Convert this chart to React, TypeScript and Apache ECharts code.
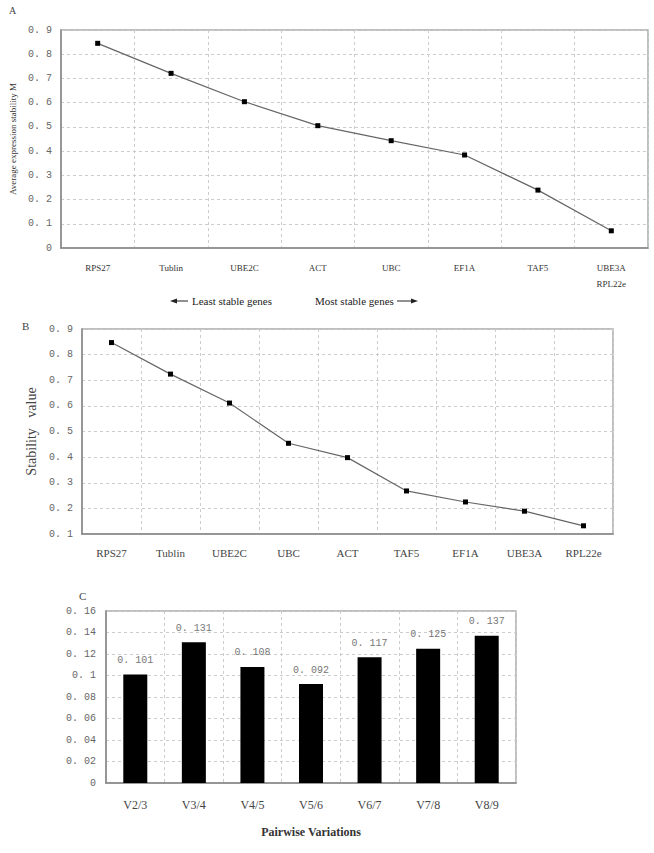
import React, { useEffect, useRef } from "react";
import * as echarts from "echarts";

const genesA = ["RPS27", "Tublin", "UBE2C", "ACT", "UBC", "EF1A", "TAF5", "UBE3A\nRPL22e"];
const valuesA = [0.845, 0.721, 0.604, 0.505, 0.443, 0.384, 0.239, 0.071];

const genesB = ["RPS27", "Tublin", "UBE2C", "UBC", "ACT", "TAF5", "EF1A", "UBE3A", "RPL22e"];
const valuesB = [0.847, 0.724, 0.611, 0.454, 0.398, 0.268, 0.225, 0.189, 0.132];

const pairs = ["V2/3", "V3/4", "V4/5", "V5/6", "V6/7", "V7/8", "V8/9"];
const pairValues = [0.101, 0.131, 0.108, 0.092, 0.117, 0.125, 0.137];

const fmt = (v: number, d: number) => (Math.abs(v) < 1e-9 ? "0" : (Math.round(v * 1000) / 1000).toFixed(d).replace(/0+$/, "").replace(".", ". "));

export default function App() {
  const ref = useRef<HTMLDivElement>(null);
  useEffect(() => {
    const chart = echarts.init(ref.current!, null, { renderer: "svg" });
    const serif = "Liberation Serif";
    const mono = "Liberation Mono";
    const grid = { show: true, borderColor: "#aaa", borderWidth: 1.5, backgroundColor: "#fff" };
    const split = { show: true, lineStyle: { color: "#ccc", type: [3, 3] as any, width: 1 } };
    const axisLine = { show: true, lineStyle: { color: "#888", width: 1.5 } };
    chart.setOption({
      animation: false,
      backgroundColor: "#fff",
      grid: [
        { ...grid, left: 61, top: 30, right: 6, bottom: 605 },
        { ...grid, left: 82, top: 329, right: 41, bottom: 319 },
        { ...grid, left: 106, top: 611, right: 138, bottom: 70 },
      ],
      xAxis: [
        {
          gridIndex: 0, type: "category", data: genesA, boundaryGap: true,
          axisLine, axisTick: { show: false }, splitLine: split,
          axisLabel: { fontFamily: serif, fontSize: 9, color: "#333", margin: 12, lineHeight: 16, verticalAlign: "top" },
        },
        {
          gridIndex: 1, type: "category", data: genesB, boundaryGap: true,
          axisLine, axisTick: { show: false }, splitLine: split,
          axisLabel: { fontFamily: serif, fontSize: 11, color: "#444", margin: 13 },
        },
        {
          gridIndex: 2, type: "category", data: pairs, boundaryGap: true,
          axisLine, axisTick: { show: false }, splitLine: split,
          axisLabel: { fontFamily: serif, fontSize: 12, color: "#444", margin: 16 },
          name: "Pairwise Variations", nameLocation: "middle", nameGap: 43,
          nameTextStyle: { fontFamily: serif, fontSize: 12, fontWeight: "bold", color: "#333" },
        },
      ],
      yAxis: [
        {
          gridIndex: 0, type: "value", min: 0, max: 0.9, interval: 0.1,
          axisLine, axisTick: { show: false }, splitLine: split,
          axisLabel: { fontFamily: mono, fontSize: 10, color: "#666", margin: 9, formatter: (v: number) => fmt(v, 1) },
          name: "Average expression stability M", nameLocation: "middle", nameGap: 38,
          nameTextStyle: { fontFamily: serif, fontSize: 9, color: "#333" },
        },
        {
          gridIndex: 1, type: "value", min: 0.1, max: 0.9, interval: 0.1,
          axisLine, axisTick: { show: false }, splitLine: split,
          axisLabel: { fontFamily: mono, fontSize: 10, color: "#666", margin: 9, formatter: (v: number) => fmt(v, 1) },
          name: "Stability   value", nameLocation: "middle", nameGap: 35,
          nameTextStyle: { fontFamily: serif, fontSize: 14, color: "#444" },
        },
        {
          gridIndex: 2, type: "value", min: 0, max: 0.16, interval: 0.02,
          axisLine, axisTick: { show: false }, splitLine: split,
          axisLabel: { fontFamily: mono, fontSize: 10, color: "#666", margin: 10, formatter: (v: number) => fmt(v, 2) },
        },
      ],
      series: [
        {
          type: "line", xAxisIndex: 0, yAxisIndex: 0, data: valuesA,
          symbol: "rect", symbolSize: 5, lineStyle: { color: "#666", width: 1.2 },
          itemStyle: { color: "#000" },
        },
        {
          type: "line", xAxisIndex: 1, yAxisIndex: 1, data: valuesB,
          symbol: "rect", symbolSize: 5, lineStyle: { color: "#666", width: 1.2 },
          itemStyle: { color: "#000" },
        },
        {
          type: "bar", xAxisIndex: 2, yAxisIndex: 2, data: pairValues, barWidth: 24,
          itemStyle: { color: "#000" },
          label: {
            show: true, position: "top", distance: 9, fontFamily: mono, fontSize: 10, color: "#777",
            formatter: (p: any) => String(p.value).replace(".", ". "),
          },
        },
      ],
      graphic: [
        { type: "text", left: 9, top: 5, style: { text: "A", fontFamily: serif, fontSize: 10, fill: "#444" } },
        { type: "text", left: 22, top: 320, style: { text: "B", fontFamily: serif, fontSize: 11, fill: "#444" } },
        { type: "text", left: 79, top: 590, style: { text: "C", fontFamily: serif, fontSize: 11, fill: "#444" } },
        { type: "text", x: 192, y: 301, style: { text: "Least stable genes", fontFamily: serif, fontSize: 11, fill: "#222", verticalAlign: "middle" } },
        { type: "text", x: 315, y: 301, style: { text: "Most stable genes", fontFamily: serif, fontSize: 11, fill: "#222", verticalAlign: "middle" } },
        { type: "line", shape: { x1: 175, y1: 301, x2: 188, y2: 301 }, style: { stroke: "#222", lineWidth: 1 } },
        { type: "polygon", shape: { points: [[170, 301], [177, 298.5], [177, 303.5]] }, style: { fill: "#222" } },
        { type: "line", shape: { x1: 397, y1: 301, x2: 413, y2: 301 }, style: { stroke: "#222", lineWidth: 1 } },
        { type: "polygon", shape: { points: [[418, 301], [411, 298.5], [411, 303.5]] }, style: { fill: "#222" } },
      ],
    });
    return () => chart.dispose();
  }, []);
  return <div ref={ref} style={{ position: "fixed", left: 0, top: 0, width: 654, height: 853 }} />;
}
